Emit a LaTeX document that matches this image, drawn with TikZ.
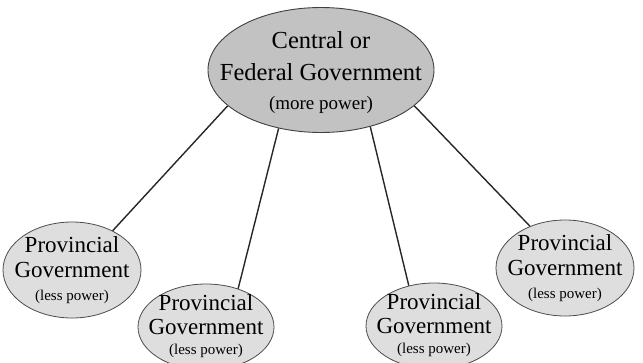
\documentclass[tikz,border=0pt]{standalone}
\usepackage{fontspec}
\setmainfont{Liberation Serif}
\usetikzlibrary{shapes.geometric}
\newcommand\lesspow{{\fontsize{15}{17}\selectfont (less power)}}
\begin{document}
\begin{tikzpicture}[x=1pt,y=-1pt,
        fed/.style={ellipse, draw=black!75, line width=0.9pt, fill=black!24,
            inner sep=0pt, minimum width=226pt, minimum height=125pt},
        prov/.style={ellipse, draw=black!70, line width=0.8pt, fill=black!13,
            inner sep=0pt, minimum width=138pt, minimum height=96pt},
        provlow/.style={prov, minimum width=136pt, minimum height=86pt},
        fedtext/.style={align=center, inner sep=0pt, font=\fontsize{24.5}{32}\selectfont},
        provtext/.style={align=center, inner sep=0pt, font=\fontsize{23}{25}\selectfont},
        link/.style={draw=black!85, line width=1.4pt}]
        \useasboundingbox (0,0) rectangle (643,362);

        \node[fed] (fed) at (321,70) {};
        \node[fedtext, yshift=-3pt] (fedlbl) at (fed) {Central or\\Federal Government\\[-3pt]{\fontsize{19}{21}\selectfont (more power)}};

        \node[prov] (provl) at (72,270) {};
        \node[prov] (provr) at (565,268) {};
        \node[provlow] (provbl) at (206,327) {};
        \node[provlow] (provbr) at (434,326) {};
        \node[provtext] (provllbl) at (provl) {Provincial\\Government\\[-2pt]\lesspow};
        \node[provtext] (provrlbl) at (provr) {Provincial\\Government\\[-2pt]\lesspow};
        \node[provtext, yshift=1pt] (provbllbl) at (provbl) {Provincial\\[-1pt]Government\\[-5pt]\lesspow};
        \node[provtext, yshift=1pt] (provbrlbl) at (provbr) {Provincial\\[-1pt]Government\\[-5pt]\lesspow};

        \draw[link] (fed.201) -- (provl.44);
        \draw[link] (fed.234) -- (provbl.50);
        \draw[link] (fed.311) -- (provbr.122);
        \draw[link] (fed.339) -- (provr.130);
    \end{tikzpicture}
\end{document}
